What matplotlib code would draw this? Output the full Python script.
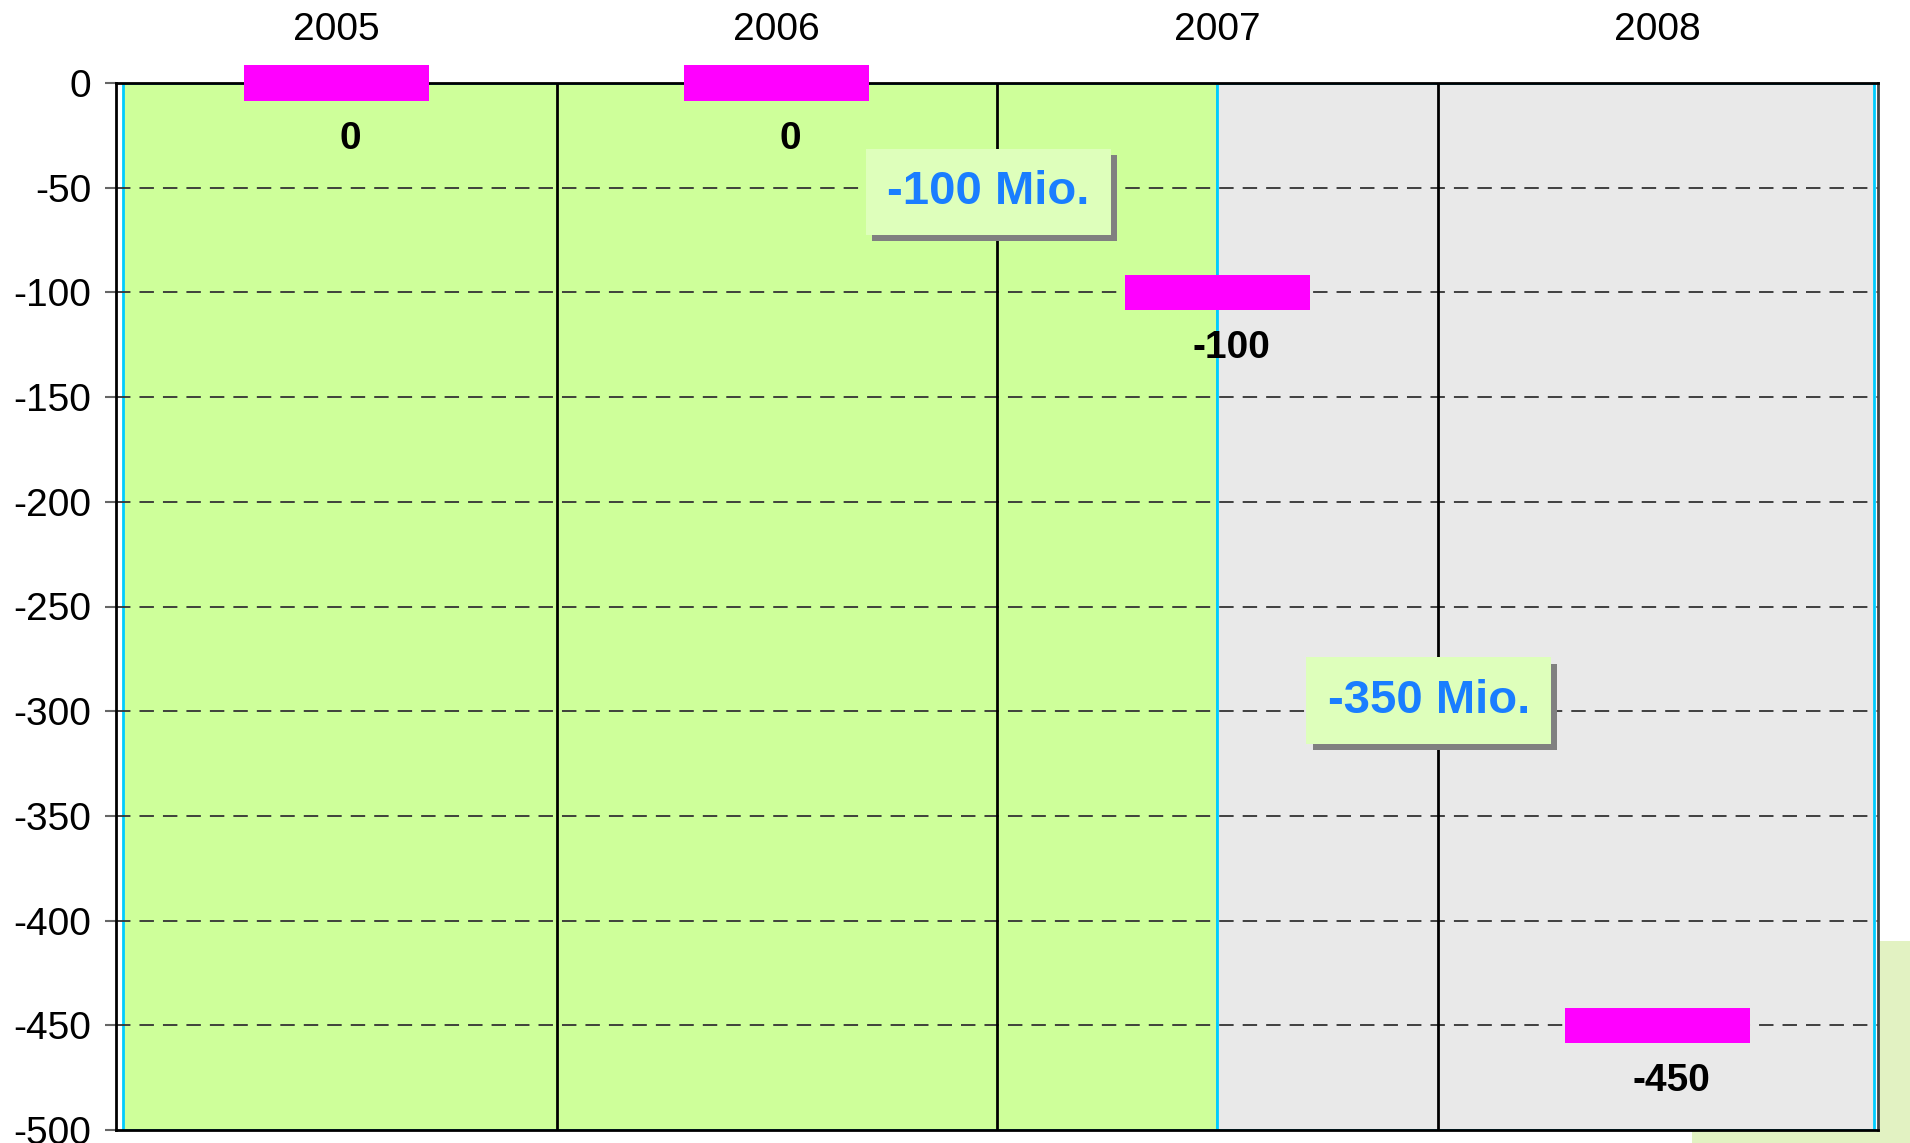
import matplotlib.pyplot as plt
import matplotlib.patheffects as pe
from matplotlib.patches import Rectangle

# data
years = ['2005', '2006', '2007', '2008']
values = [0, 0, -100, -450]
bar_labels = ['0', '0', '-100', '-450']
steps = ['-100 Mio.', '-350 Mio.']
step_pos = [(1.48, -52), (2.48, -295)]
y_ticks = list(range(0, -501, -50))

plt.rcParams['font.family'] = ['Liberation Sans', 'DejaVu Sans']

fig = plt.figure(figsize=(19.1, 11.43), dpi=100, facecolor='white')

# stray light green panel bottom right (slide background)
fig.patches.append(Rectangle((1692 / 1910, 0), 1 - 1692 / 1910, 202 / 1143,
                             transform=fig.transFigure, facecolor='#E2F2C2',
                             edgecolor='none', zorder=-1))

ax = fig.add_axes([116 / 1910, 13 / 1143, 1762 / 1910, 1047 / 1143])
ax.set_xlim(-0.5, 3.5)
ax.set_ylim(-500, 0)
ax.set_facecolor('white')

# background areas: actual (green) and plan (grey)
ax.add_patch(Rectangle((-0.485, -500), 2.485, 500, facecolor='#CEFF9A',
                       edgecolor='#00CCFF', lw=2, zorder=0))
ax.add_patch(Rectangle((2.0, -500), 1.49, 500, facecolor='#E9E9E9',
                       edgecolor='#00CCFF', lw=2, zorder=0))

for y in y_ticks[1:-1]:
    ax.axhline(y, color='#333333', lw=1.3, ls=(0, (8, 5)), zorder=1)

for x in [0.5, 1.5, 2.5]:
    ax.axvline(x, color='black', lw=2, zorder=2)

# floating value markers
thick = 17
x = range(len(years))
ax.bar(x, [thick] * len(values), bottom=[v - thick / 2 for v in values],
       width=0.42, color='#FF00FF', zorder=4, clip_on=False)

for i, (v, lab) in enumerate(zip(values, bar_labels)):
    ax.annotate(lab, (i, v), xytext=(10, -40), textcoords='offset points',
                ha='center', va='center', fontsize=28, fontweight='bold',
                color='black', zorder=5)

# step annotations with shadowed boxes
for (sx, sy), txt in zip(step_pos, steps):
    t = ax.text(sx, sy, txt, ha='center', va='center', fontsize=34,
                fontweight='bold', color='#1A7EFF', zorder=6,
                bbox=dict(boxstyle='square,pad=0.45', facecolor='#DEFFBB',
                          edgecolor='none'))
    t.get_bbox_patch().set_path_effects([
        pe.SimplePatchShadow(offset=(4.5, -4.5), shadow_rgbFace='#808080', alpha=1),
        pe.Normal()])

ax.set_xticks(list(x))
ax.set_xticklabels(years)
ax.xaxis.tick_top()
ax.tick_params(axis='x', length=0, pad=25, labelsize=28)
ax.set_yticks(y_ticks)
ax.set_yticklabels([str(t) for t in y_ticks])
ax.tick_params(axis='y', length=8, width=1.5, color='#666666', pad=10,
               labelsize=28)

for s in ['top', 'left', 'bottom']:
    ax.spines[s].set_color('black')
    ax.spines[s].set_linewidth(2)
ax.spines['right'].set_color('#444444')
ax.spines['right'].set_linewidth(2)

fig.savefig('out.png', dpi=100, facecolor='white')
